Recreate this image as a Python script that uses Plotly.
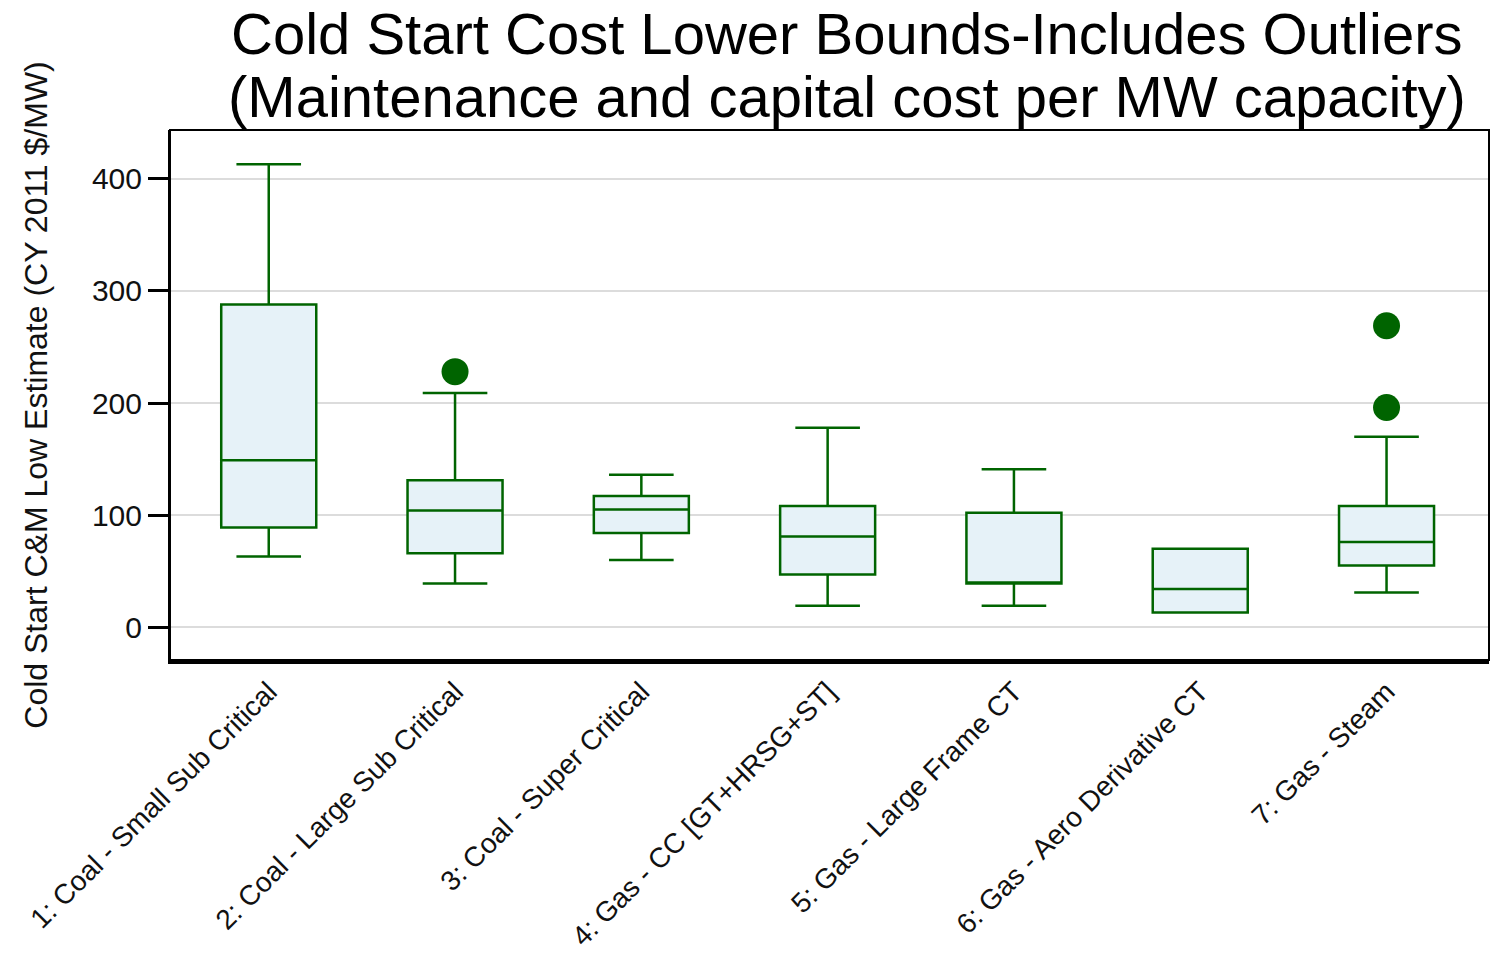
import plotly.graph_objects as go

categories = [
    "1: Coal - Small Sub Critical",
    "2: Coal - Large Sub Critical",
    "3: Coal - Super Critical",
    "4: Gas - CC [GT+HRSG+ST]",
    "5: Gas - Large Frame CT",
    "6: Gas - Aero Derivative CT",
    "7: Gas - Steam",
]
lower_whisker = [63, 39, 60, 19, 19, 13, 31]
q1 = [89, 66, 84, 47, 39, 13, 55]
median = [149, 104, 105, 81, 39, 34, 76]
q3 = [288, 131, 117, 108, 102, 70, 108]
upper_whisker = [413, 209, 136, 178, 141, 70, 170]

outlier_cats = [
    "2: Coal - Large Sub Critical",
    "7: Gas - Steam",
    "7: Gas - Steam",
]
outlier_vals = [228, 269, 196]

title_lines = [
    "Cold Start Cost Lower Bounds-Includes Outliers",
    "(Maintenance and capital cost per MW capacity)",
]

GREEN = "#006400"
FILL = "#e6f2f8"
PLOT_TOP = 130
PLOT_H = 953 - 130 - 291

fig = go.Figure()
fig.add_trace(go.Box(
    x=categories,
    q1=q1, median=median, q3=q3,
    lowerfence=lower_whisker, upperfence=upper_whisker,
    fillcolor=FILL,
    line=dict(color=GREEN, width=2.5),
    whiskerwidth=0.68,
    width=0.51,
    boxpoints=False,
    showlegend=False,
    hoverinfo="skip",
))
fig.add_trace(go.Scatter(
    x=outlier_cats, y=outlier_vals, mode="markers",
    marker=dict(color=GREEN, size=27, line=dict(width=0)),
    showlegend=False,
))

# frame around the plotting area
fig.add_shape(type="rect", xref="paper", yref="paper", x0=0, y0=0, x1=1, y1=1,
              line=dict(color="black", width=2), layer="above")

# two-line heading placed above the frame
for line_text, center_px in zip(title_lines, [33, 96]):
    fig.add_annotation(
        text=line_text, showarrow=False,
        xref="paper", yref="paper",
        x=0.513, xanchor="center",
        y=1 + (PLOT_TOP - center_px) / PLOT_H, yanchor="middle",
        font=dict(size=58, color="black"),
    )

fig.update_layout(
    width=1490, height=953,
    margin=dict(l=170, r=1, t=130, b=291),
    paper_bgcolor="white", plot_bgcolor="white",
    font=dict(family="Liberation Sans, Arial, sans-serif", color="black"),
    xaxis=dict(
        type="category", categoryorder="array", categoryarray=categories,
        range=[-0.53, 6.55],
        tickangle=-45, tickfont=dict(size=28, color="#111"),
        showgrid=False, ticks="", showline=True, linecolor="black", linewidth=4,
        zeroline=False,
    ),
    yaxis=dict(
        range=[-29.3, 443.6],
        tickvals=[0, 100, 200, 300, 400],
        ticksuffix=" ",
        ticks="outside", ticklen=20, tickwidth=3, tickcolor="black",
        tickfont=dict(size=30, color="#111"),
        showgrid=True, gridcolor="#dcdcdc", gridwidth=2,
        zeroline=False, showline=True, linecolor="black", linewidth=2,
        title=dict(text="Cold Start C&M Low Estimate (CY 2011 $/MW)",
                   font=dict(size=32, color="#111"), standoff=35),
    ),
)

fig.write_html("out.html")
